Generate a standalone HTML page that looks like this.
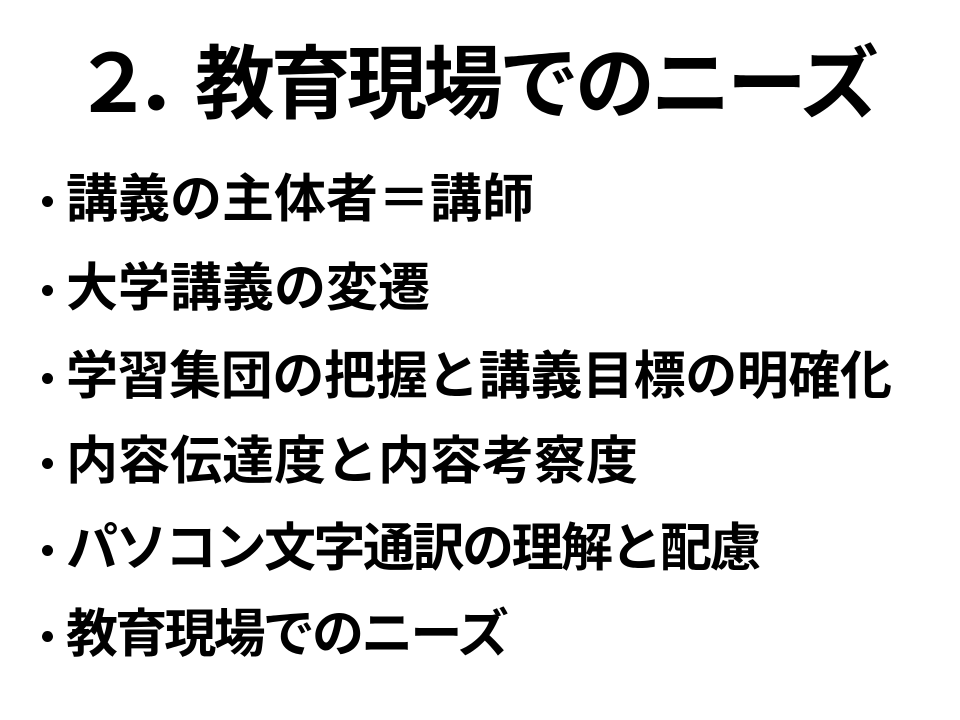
<!DOCTYPE html>
<html><head><meta charset="utf-8"><style>
html,body{margin:0;padding:0;background:#fff;}
body{width:960px;height:720px;position:relative;overflow:hidden;font-family:"Liberation Sans","Noto Sans CJK JP",sans-serif;font-weight:bold;color:#000;}
.t{position:absolute;left:73px;top:40px;font-size:80px;line-height:90px;letter-spacing:-4px;white-space:nowrap;}
.b{position:absolute;left:66px;font-size:52px;line-height:60px;white-space:nowrap;}
.d{position:absolute;left:42px;width:11px;height:11px;border-radius:50%;background:#000;}
</style></head><body>
<div class="t"><span style="letter-spacing:-19px">２．</span>教育現場でのニーズ</div>
<div class="d" style="top:196px"></div><div class="b" style="top:170px">講義の主体者＝講師</div>
<div class="d" style="top:285px"></div><div class="b" style="top:259px">大学講義の変遷</div>
<div class="d" style="top:373px"></div><div class="b" style="top:347px;letter-spacing:-0.4px">学習集団の把握と講義目標の明確化</div>
<div class="d" style="top:458px"></div><div class="b" style="top:432px">内容伝達度と内容考察度</div>
<div class="d" style="top:545px"></div><div class="b" style="top:519px;letter-spacing:-2.5px">パソコン文字通訳の理解と配慮</div>
<div class="d" style="top:631px"></div><div class="b" style="top:605px;letter-spacing:-2.8px">教育現場でのニーズ</div>
</body></html>
